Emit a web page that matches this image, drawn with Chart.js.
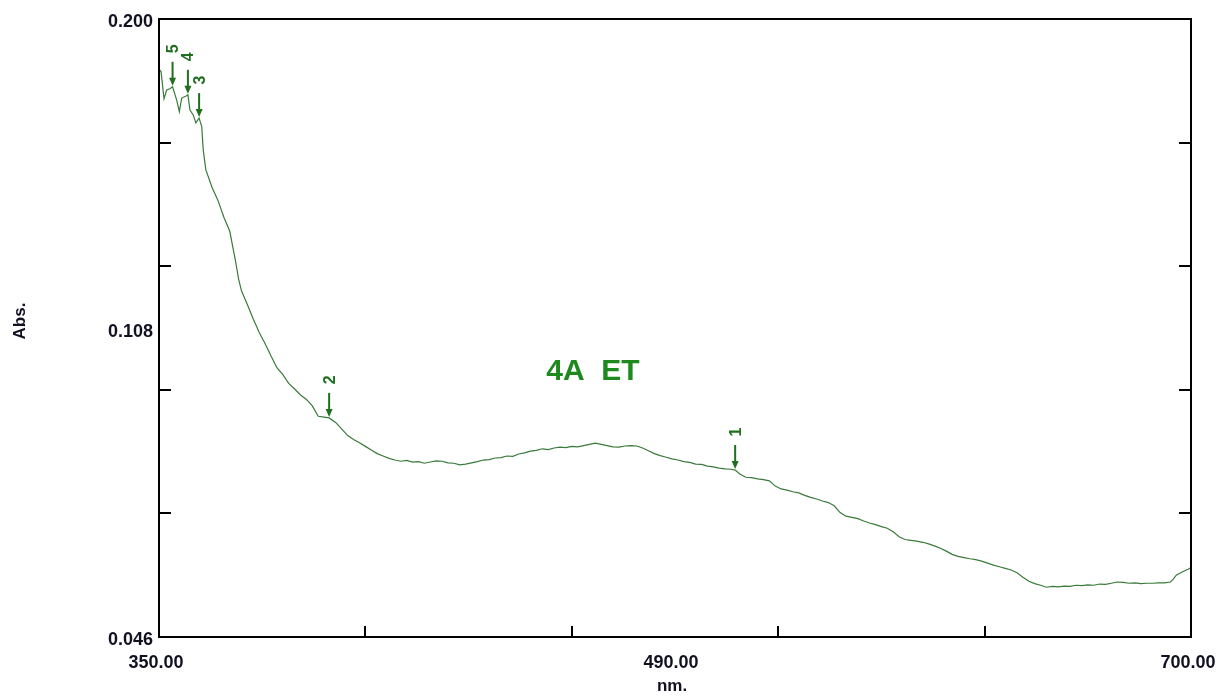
<!DOCTYPE html>
<html>
<head>
<meta charset="utf-8">
<script src="https://cdn.jsdelivr.net/npm/chart.js@4"></script>
<style>
  html, body { margin: 0; padding: 0; background: #fff; }
  #wrap { width: 1221px; height: 696px; }
</style>
</head>
<body>
<div id="wrap"><canvas id="specChart" width="1221" height="696"></canvas></div>
<script>
// scan of sample 4A ET, absorbance vs wavelength
const wavelength = [
    350.0, 350.7, 351.7, 352.6, 353.7, 354.6, 356.0, 356.9, 357.7, 359.2,
    359.8, 360.5, 361.6, 362.5, 363.6, 364.5, 365.0, 365.9, 368, 370,
    372, 374, 376, 377, 378, 380, 382, 384, 386, 388,
    390, 392, 394, 396, 398, 400, 402, 404, 406, 407.7,
    410, 412, 414, 416, 418, 420, 422, 424, 426, 428,
    430, 432, 434, 436, 438, 440, 442, 444, 446, 448,
    450, 452, 454, 456, 458, 460, 462, 464, 466, 468,
    470, 472, 474, 476, 478, 480, 482, 484, 486, 488,
    490, 492, 494, 496, 498, 500, 502, 504, 506, 508,
    510, 512, 514, 516, 518, 520, 522, 524, 526, 528,
    530, 532, 534, 536, 538, 540, 542, 544, 545.4, 547,
    549, 551, 553, 555, 557, 559, 561, 563, 565, 567,
    569, 571, 573, 575, 577, 579, 581, 583, 585, 587,
    589, 591, 593, 595, 597, 599, 601, 603, 605, 607,
    609, 611, 613, 615, 617, 619, 621, 623, 625, 627,
    629, 631, 633, 635, 637, 639, 641, 643, 645, 647,
    649, 651, 653, 655, 657, 659, 661, 663, 665, 667,
    669, 671, 673, 675, 677, 679, 681, 683, 685, 687,
    689, 691, 693, 694, 695, 697, 699, 700
];
const absorbance = [
    0.1875, 0.1869, 0.1801, 0.1823, 0.1826, 0.1831, 0.1798, 0.1769, 0.1803, 0.1808,
    0.1811, 0.1773, 0.1761, 0.1741, 0.1753, 0.1732, 0.1674, 0.1624, 0.1580, 0.1548,
    0.1506, 0.1471, 0.1395, 0.1352, 0.1322, 0.1288, 0.1252, 0.1219, 0.1191, 0.1160,
    0.1131, 0.1114, 0.1092, 0.1078, 0.1063, 0.1052, 0.1036, 0.1010, 0.1008, 0.1006,
    0.0994, 0.0978, 0.0962, 0.0952, 0.0944, 0.0935, 0.0926, 0.0917, 0.0911, 0.0905,
    0.0901, 0.0898, 0.0900, 0.0896, 0.0897, 0.0893, 0.0896, 0.0899, 0.0898, 0.0894,
    0.0893, 0.0889, 0.0891, 0.0894, 0.0897, 0.0901, 0.0902, 0.0906, 0.0907, 0.0911,
    0.0910, 0.0916, 0.0919, 0.0923, 0.0925, 0.0929, 0.0927, 0.0931, 0.0933, 0.0932,
    0.0935, 0.0934, 0.0937, 0.0940, 0.0943, 0.0940, 0.0937, 0.0934, 0.0933, 0.0936,
    0.0937, 0.0936, 0.0931, 0.0924, 0.0917, 0.0912, 0.0908, 0.0904, 0.0901, 0.0897,
    0.0895, 0.0891, 0.0890, 0.0886, 0.0884, 0.0881, 0.0879, 0.0878, 0.0876, 0.0866,
    0.0858, 0.0857, 0.0854, 0.0852, 0.0849, 0.0836, 0.0829, 0.0826, 0.0822, 0.0819,
    0.0813, 0.0808, 0.0804, 0.0799, 0.0795, 0.0787, 0.0770, 0.0761, 0.0758, 0.0755,
    0.0749, 0.0744, 0.0740, 0.0735, 0.0731, 0.0722, 0.0710, 0.0703, 0.0701, 0.0699,
    0.0696, 0.0692, 0.0687, 0.0681, 0.0674, 0.0666, 0.0661, 0.0658, 0.0655, 0.0653,
    0.0649, 0.0644, 0.0639, 0.0635, 0.0631, 0.0627, 0.0620, 0.0609, 0.0599, 0.0593,
    0.0589, 0.0584, 0.0586, 0.0585, 0.0587, 0.0586, 0.0589, 0.0588, 0.0590, 0.0589,
    0.0592, 0.0591, 0.0594, 0.0597, 0.0596, 0.0594, 0.0595, 0.0593, 0.0594, 0.0594,
    0.0595, 0.0595, 0.0597, 0.0604, 0.0614, 0.0622, 0.0629, 0.0633
];

// picked peaks
const peakNo = ['1', '2', '3', '4', '5'];
const peakNm = [545.4, 407.7, 363.6, 359.8, 354.6];
const peakAbs = [0.0876, 0.1006, 0.1753, 0.1811, 0.1831];

const xTickLabels = ['350.00', '490.00', '700.00'];
const yTickLabels = ['0.200', '0.108', '0.046'];
const xMin = 350, xMax = 700, xStep = 70;
const yMin = 0.046, yMax = 0.200, yDivs = 5;

const points = wavelength.map((w, i) => ({ x: w, y: absorbance[i] }));

// frame, inward ticks, labels and peak markers
const frame = {
    id: 'frame',
    afterDraw(chart) {
        const c = chart.ctx;
        const a = chart.chartArea;
        const xs = chart.scales.x, ys = chart.scales.y;
        c.save();

        c.strokeStyle = '#000';
        c.lineWidth = 2;
        c.strokeRect(a.left, a.top, a.right - a.left, a.bottom - a.top);

        c.beginPath();
        for (let v = xMin + xStep; v < xMax; v += xStep) {
            const px = Math.round(xs.getPixelForValue(v));
            c.moveTo(px, a.bottom);
            c.lineTo(px, a.bottom - 11);
        }
        const yStep = (yMax - yMin) / yDivs;
        for (let k = 1; k < yDivs; k++) {
            const py = Math.round(ys.getPixelForValue(yMin + k * yStep));
            c.moveTo(a.left, py);
            c.lineTo(a.left + 12, py);
            c.moveTo(a.right, py);
            c.lineTo(a.right - 12, py);
        }
        c.stroke();

        // tick labels sit at start, middle and end of each axis
        c.fillStyle = '#111122';
        c.font = 'bold 18px "Liberation Sans", Arial, sans-serif';
        c.textAlign = 'center';
        c.textBaseline = 'middle';
        const xPos = [a.left - 3, (a.left + a.right) / 2 - 4, a.right - 3];
        xTickLabels.forEach((t, i) => c.fillText(t, xPos[i], 663));
        c.textAlign = 'right';
        const yPos = [a.top + 3, (a.top + a.bottom) / 2 + 4, a.bottom + 3];
        yTickLabels.forEach((t, i) => c.fillText(t, a.left - 6, yPos[i]));

        c.font = 'bold 17px "Liberation Sans", Arial, sans-serif';
        c.textAlign = 'center';
        c.fillText('nm.', 672, 686);
        c.save();
        c.translate(20, 321);
        c.rotate(-Math.PI / 2);
        c.fillText('Abs.', 0, 0);
        c.restore();

        c.fillStyle = '#1e8a1e';
        c.font = 'bold 30px "Liberation Sans", Arial, sans-serif';
        c.fillText('4A  ET', 593, 372);

        // peak arrows with rotated numbers
        c.strokeStyle = '#1f6f1f';
        c.fillStyle = '#1f6f1f';
        c.lineWidth = 2;
        peakNo.forEach((n, i) => {
            const px = xs.getPixelForValue(peakNm[i]);
            const py = ys.getPixelForValue(peakAbs[i]) - 1;
            c.beginPath();
            c.moveTo(px, py - 24);
            c.lineTo(px, py - 6);
            c.stroke();
            c.beginPath();
            c.moveTo(px - 3.5, py - 8);
            c.lineTo(px + 3.5, py - 8);
            c.lineTo(px, py);
            c.closePath();
            c.fill();
            c.save();
            c.translate(px + 1, py - 37);
            c.rotate(-Math.PI / 2);
            c.font = 'bold 16px "Liberation Sans", Arial, sans-serif';
            c.textAlign = 'center';
            c.textBaseline = 'middle';
            c.fillText(n, 0, 0);
            c.restore();
        });
        c.restore();
    }
};

new Chart(document.getElementById('specChart'), {
    type: 'line',
    data: {
        datasets: [{
            label: 'Abs.',
            data: points,
            borderColor: '#3a7a3a',
            borderWidth: 1.2,
            pointRadius: 0,
            tension: 0,
            fill: false
        }]
    },
    options: {
        responsive: false,
        animation: false,
        events: [],
        layout: { padding: { left: 159, top: 19, right: 30, bottom: 59 } },
        plugins: {
            legend: { display: false },
            tooltip: { enabled: false }
        },
        scales: {
            x: { type: 'linear', min: xMin, max: xMax, display: false },
            y: { type: 'linear', min: yMin, max: yMax, display: false }
        }
    },
    plugins: [frame]
});
</script>
</body>
</html>
